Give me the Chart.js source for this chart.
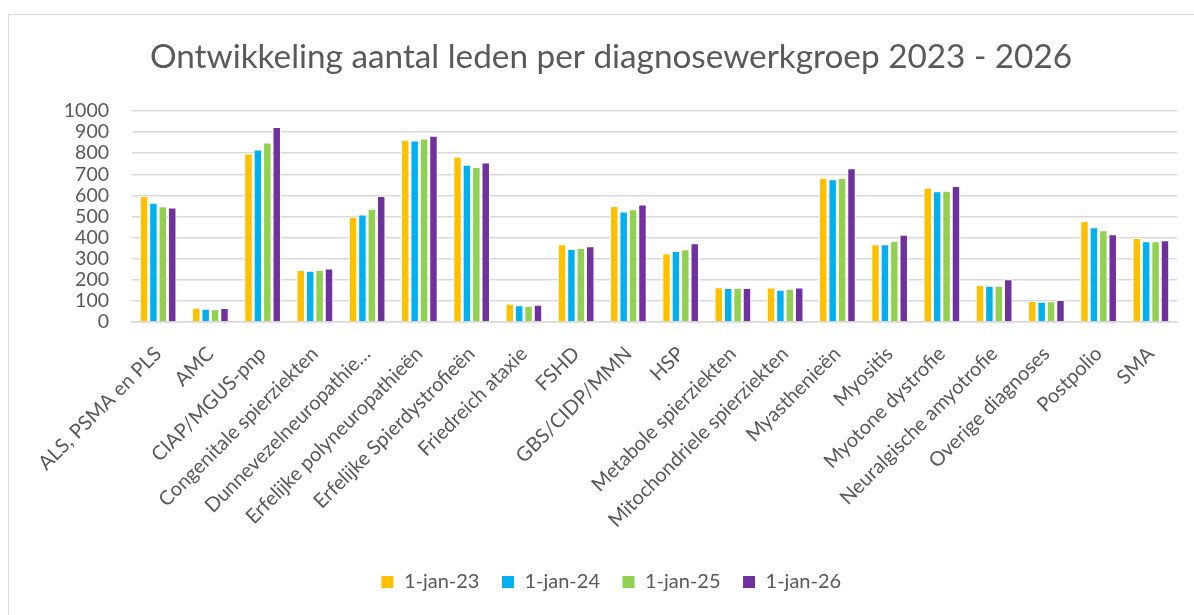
<!DOCTYPE html>
<html>
<head>
<meta charset="utf-8">
<script src="https://cdn.jsdelivr.net/npm/chart.js@4.4.1/dist/chart.umd.min.js"></script>
<style>
    html, body { margin: 0; padding: 0; background: #fff; overflow: hidden; }
    #wrap {
        position: absolute;
        left: 8px; top: 14px;
        width: 1206px; height: 610px;
        border: 1px solid #d9d9d9;
        box-sizing: border-box;
    }
    #chart { position: absolute; left: 0; top: 0; }
</style>
</head>
<body>
<div id="wrap"><canvas id="chart" width="1204" height="600"></canvas></div>
<script>
// Categories (x axis)
const categories = [
    'ALS, PSMA en PLS', 'AMC', 'CIAP/MGUS-pnp', 'Congenitale spierziekten',
    'Dunnevezelneuropathie…', 'Erfelijke polyneuropathieën', 'Erfelijke Spierdystrofieën',
    'Friedreich ataxie', 'FSHD', 'GBS/CIDP/MMN', 'HSP', 'Metabole spierziekten',
    'Mitochondriele spierziekten', 'Myasthenieën', 'Myositis', 'Myotone dystrofie',
    'Neuralgische amyotrofie', 'Overige diagnoses', 'Postpolio', 'SMA'
];

// Series values
const jan23 = [597, 68, 798, 246, 499, 863, 783, 87, 369, 550, 326, 165, 164, 683, 369, 636, 175, 99, 479, 398];
const jan24 = [565, 63, 817, 243, 509, 860, 745, 79, 346, 524, 337, 161, 153, 676, 369, 619, 172, 96, 449, 383];
const jan25 = [548, 61, 850, 246, 537, 869, 734, 77, 351, 534, 345, 161, 157, 682, 384, 622, 172, 98, 435, 383];
const jan26 = [543, 66, 924, 254, 597, 883, 756, 82, 359, 557, 373, 161, 164, 729, 414, 644, 203, 104, 416, 387];

const seriesLabels = ['1-jan-23', '1-jan-24', '1-jan-25', '1-jan-26'];
const seriesColors = ['#FFC000', '#00B0F0', '#92D050', '#7030A0'];

const textColor = '#595959';
const gridColor = '#d9d9d9';
const fontFamily = 'Lato, "Open Sans", sans-serif';

const ctx = document.getElementById('chart').getContext('2d');
const chart = new Chart(ctx, {
    type: 'bar',
    data: {
        labels: categories,
        datasets: [jan23, jan24, jan25, jan26].map((vals, i) => ({
            label: seriesLabels[i],
            data: vals,
            backgroundColor: seriesColors[i],
            borderColor: '#ffffff',
            borderWidth: 1,
            barPercentage: 0.9,
            categoryPercentage: 0.72
        }))
    },
    options: {
        responsive: false,
        animation: false,
        layout: {
            padding: { left: 0, right: 0, top: 0, bottom: 13 }
        },
        scales: {
            y: {
                min: 0,
                max: 1000,
                afterFit: (scale) => { scale.width = 123; },
                ticks: {
                    stepSize: 100,
                    autoSkip: false,
                    color: textColor,
                    font: { family: fontFamily, size: 19.5 },
                    padding: 23,
                    callback: (v) => String(v)
                },
                grid: { color: gridColor, lineWidth: 1.5, drawTicks: false },
                border: { display: false }
            },
            // empty spacer on the right so the plot ends where the original does
            spacer: {
                type: 'linear',
                position: 'right',
                afterFit: (scale) => { scale.width = 36; },
                ticks: { display: false },
                grid: { display: false, drawTicks: false },
                border: { display: false }
            },
            x: {
                afterFit: (scale) => { scale.height = 228; },
                ticks: {
                    color: textColor,
                    font: { family: fontFamily, size: 20 },
                    maxRotation: 45,
                    minRotation: 45,
                    autoSkip: false,
                    padding: 20
                },
                grid: { display: false, drawTicks: false },
                border: { color: gridColor, width: 1.5 }
            }
        },
        plugins: {
            title: {
                display: true,
                text: 'Ontwikkeling aantal leden per diagnosewerkgroep 2023 - 2026',
                color: textColor,
                font: { family: fontFamily, size: 33.3, weight: 'normal' },
                padding: { top: 22, bottom: 34 }
            },
            legend: {
                position: 'bottom',
                labels: {
                    color: textColor,
                    font: { family: fontFamily, size: 20 },
                    boxWidth: 13,
                    boxHeight: 13,
                    padding: 22
                }
            },
            tooltip: { enabled: false }
        }
    }
});
</script>
</body>
</html>
